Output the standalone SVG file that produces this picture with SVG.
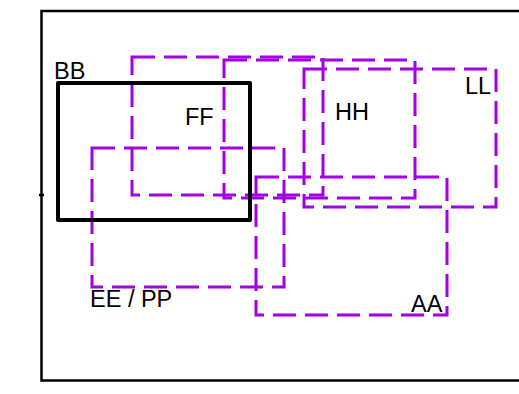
<svg xmlns="http://www.w3.org/2000/svg" width="519" height="394" viewBox="0 0 519 394">
<style>
.frame{fill:none;stroke:#000;stroke-width:2.5}
.bb{fill:none;stroke:#000;stroke-width:4;stroke-linejoin:round}
.d{fill:none;stroke:#a100e8;stroke-width:3;stroke-dasharray:23 9}
.t{font-family:"Liberation Sans",Arial,sans-serif;font-size:23.5px;fill:#000}
</style>
<rect width="519" height="394" fill="#fff"/>
<g id="frame">
<rect class="frame" x="41.5" y="11" width="500" height="369.5"/>
<line x1="39" y1="195" x2="44" y2="195" stroke="#000" stroke-width="2.5"/>
</g>
<g id="connectors"></g>
<g id="FF"><rect class="d" x="132" y="57" width="191" height="138"/><text class="t" x="185" y="125">FF</text></g>
<g id="HH"><rect class="d" x="224" y="60" width="191" height="138"/><text class="t" x="335" y="120">HH</text></g>
<g id="LL"><rect class="d" x="304" y="69" width="192" height="138"/><text class="t" x="465" y="93.5">LL</text></g>
<g id="EE"><rect class="d" x="92" y="148" width="192" height="139"/><text class="t" x="90" y="306.5">EE / PP</text></g>
<g id="AA"><rect class="d" x="256" y="177" width="191" height="138"/><text class="t" x="411" y="311.5">AA</text></g>
<g id="BB"><rect class="bb" x="58" y="83" width="192" height="137"/><text class="t" x="54" y="79">BB</text></g>
</svg>
